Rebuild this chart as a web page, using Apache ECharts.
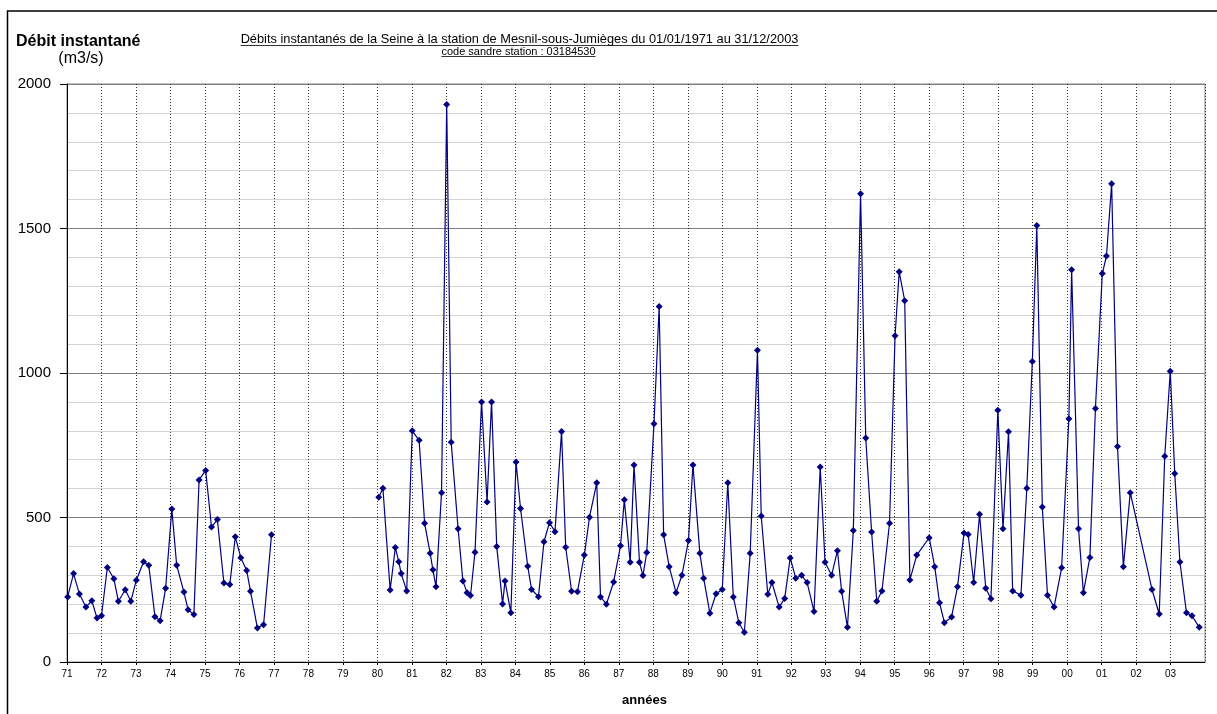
<!DOCTYPE html>
<html>
<head>
<meta charset="utf-8">
<title>Débits instantanés de la Seine - Mesnil-sous-Jumièges</title>
<script src="https://cdn.jsdelivr.net/npm/echarts@6/dist/echarts.min.js"></script>
<style>
  html, body { margin: 0; padding: 0; background: #fff; }
  #chart { width: 1217px; height: 714px; }
</style>
</head>
<body>
<div id="chart"></div>
<script>
// Sampling dates (decimal years) and instantaneous discharge (m3/s).
// A null value marks the 1977-1979 interruption of the record.
const sampleDates = [
  1971.02, 1971.19, 1971.36, 1971.55, 1971.72, 1971.87, 1972.00, 1972.17, 1972.36, 1972.49,
  1972.69, 1972.85, 1973.01, 1973.22, 1973.37, 1973.55, 1973.70, 1973.86, 1974.04, 1974.18,
  1974.39, 1974.51, 1974.68, 1974.83, 1975.02, 1975.19, 1975.36, 1975.55, 1975.72, 1975.88,
  1976.04, 1976.21, 1976.32, 1976.52, 1976.70, 1976.93,
  1978.50,
  1980.04, 1980.16, 1980.37, 1980.52, 1980.62, 1980.69, 1980.85, 1981.01, 1981.21, 1981.37,
  1981.53, 1981.61, 1981.70, 1981.86, 1982.01, 1982.14, 1982.34, 1982.48, 1982.60, 1982.70,
  1982.83, 1983.02, 1983.18, 1983.31, 1983.46, 1983.63, 1983.70, 1983.87, 1984.02, 1984.15,
  1984.36, 1984.47, 1984.67, 1984.83, 1984.99, 1985.15, 1985.34, 1985.46, 1985.63, 1985.80,
  1986.00, 1986.15, 1986.36, 1986.47, 1986.64, 1986.85,
  1987.05, 1987.16, 1987.33, 1987.44, 1987.60, 1987.70, 1987.81, 1988.02, 1988.17, 1988.30,
  1988.46, 1988.66, 1988.83, 1989.02, 1989.15, 1989.35, 1989.46, 1989.64, 1989.82, 1990.00,
  1990.16, 1990.32, 1990.48, 1990.64, 1990.81, 1991.02, 1991.13, 1991.32, 1991.44, 1991.65,
  1991.81, 1991.97, 1992.13, 1992.30, 1992.46, 1992.66, 1992.84, 1992.98, 1993.17, 1993.34,
  1993.46, 1993.63, 1993.80,
  1994.01, 1994.16, 1994.33, 1994.48, 1994.63, 1994.85, 1995.01, 1995.13, 1995.29, 1995.44,
  1995.64, 1996.00, 1996.16, 1996.30, 1996.44, 1996.65, 1996.82, 1997.01, 1997.13, 1997.29,
  1997.46, 1997.64, 1997.79, 1997.99, 1998.14, 1998.30, 1998.42, 1998.66, 1998.83, 1998.99,
  1999.12, 1999.28, 1999.43, 1999.62, 1999.84, 2000.05, 2000.13, 2000.33, 2000.47, 2000.66,
  2000.82, 2001.02, 2001.14, 2001.29, 2001.46, 2001.63, 2001.83, 2002.46, 2002.67, 2002.83,
  2002.99, 2003.12, 2003.27, 2003.46, 2003.62, 2003.83
];

const discharge = [
  225, 306, 235, 190, 212, 152, 160, 327, 288, 210,
  250, 210, 283, 347, 335, 157, 143, 255, 529, 335,
  242, 181, 164, 630, 663, 467, 493, 273, 268, 433,
  361, 317, 245, 118, 129, 440,
  null,
  570, 601, 249, 396, 347, 306, 246, 800, 767, 480,
  376, 319, 260, 586, 1929, 760, 461, 280, 240, 230,
  380, 900, 554, 900, 400, 201, 280, 170, 692, 531,
  331, 251, 226, 416, 482, 451, 798, 397, 245, 243,
  370, 501, 620, 225, 200, 277,
  402, 561, 345, 682, 345, 299, 379, 824, 1230, 440,
  330, 240, 300, 420, 682, 376, 290, 169, 236, 251,
  620, 225, 136, 103, 376, 1079, 505, 234, 275, 190,
  220, 360, 290, 300, 275, 175, 675, 345, 300, 385,
  245, 120, 455,
  1620, 775, 450, 210, 246, 480, 1129, 1350, 1250, 284,
  370, 430, 330, 205, 136, 156, 260, 446, 441, 275,
  511, 255, 219, 871, 461, 797, 246, 231, 601, 1040,
  1510, 536, 231, 190, 326, 842, 1357, 461, 240, 362,
  877, 1344, 1405, 1655, 746, 330, 586, 251, 166, 712,
  1006, 652, 346, 170, 160, 120
];

const yAxisTitle = 'Débit instantané';
const yAxisUnit = '(m3/s)';
const xAxisTitle = 'années';
const chartTitle = 'Débits instantanés de la Seine à la station de Mesnil-sous-Jumièges du 01/01/1971 au 31/12/2003';
const chartSubtitle = 'code sandre station : 03184530';

const FONT = "'Liberation Sans', Arial, Helvetica, sans-serif";

function textWidth(str, font) {
  const ctx = document.createElement('canvas').getContext('2d');
  ctx.font = font;
  return ctx.measureText(str).width;
}

// Underlined, centred text block (text + thin rule below it)
function underlined(str, cx, cy, size, id) {
  const w = textWidth(str, size + 'px ' + FONT);
  const uy = Math.round(cy + size * 0.45) + 0.5;
  return [
    { type: 'text', id: id, x: cx, y: cy,
      style: { text: str, fill: '#000', font: size + 'px ' + FONT, textAlign: 'center', textVerticalAlign: 'middle' } },
    { type: 'line', id: id + '_u',
      shape: { x1: cx - w / 2, y1: uy, x2: cx + w / 2, y2: uy },
      style: { stroke: '#000', lineWidth: 0.8 } }
  ];
}

const seriesData = sampleDates.map((t, i) => [t, discharge[i] === null ? '-' : discharge[i]]);

const chart = echarts.init(document.getElementById('chart'), null, { renderer: 'canvas' });

chart.setOption({
  animation: false,
  backgroundColor: '#ffffff',
  grid: {
    left: 67, top: 84, right: 12, bottom: 52,
    show: true, borderColor: '#808080', borderWidth: 1, backgroundColor: '#ffffff'
  },
  xAxis: {
    type: 'value',
    min: 1971,
    max: 2003.997,
    interval: 1,
    axisLine: { show: true, onZero: false, lineStyle: { color: '#000', width: 1 } },
    axisTick: { show: true, length: 3, inside: false, lineStyle: { color: '#000' } },
    axisLabel: {
      color: '#000', fontFamily: FONT, fontSize: 10, margin: 7, showMaxLabel: false,
      formatter: v => Number.isInteger(v) ? String(v % 100).padStart(2, '0') : ''
    },
    splitLine: { show: true, lineStyle: { color: '#333333', width: 1, type: [1, 2] } }
  },
  yAxis: {
    type: 'value',
    min: 0,
    max: 2000,
    interval: 500,
    axisLine: { show: true, lineStyle: { color: '#000', width: 1 } },
    axisTick: { show: true, length: 7, inside: false, lineStyle: { color: '#000' } },
    axisLabel: { color: '#000', fontFamily: FONT, fontSize: 15, margin: 16, formatter: v => String(v) },
    splitLine: { show: true, lineStyle: { color: '#808080', width: 1 } },
    minorTick: { show: false, splitNumber: 5 },
    minorSplitLine: { show: true, lineStyle: { color: '#d4d4d4', width: 1 } }
  },
  series: [{
    type: 'line',
    data: seriesData,
    connectNulls: false,
    symbol: 'diamond',
    symbolSize: 7,
    showSymbol: true,
    itemStyle: { color: '#000080' },
    lineStyle: { color: '#000080', width: 1.2 },
    emphasis: { disabled: true }
  }],
  graphic: [
    { type: 'rect', id: 'frame',
      shape: { x: 7.5, y: 11, width: 1400, height: 900 },
      style: { fill: 'none', stroke: '#000', lineWidth: 1.5 }, z: 100 },
    { type: 'text', id: 'ytitle', x: 16, y: 42,
      style: { text: yAxisTitle, fill: '#000', font: 'bold 16px ' + FONT, textVerticalAlign: 'middle' } },
    { type: 'text', id: 'yunit', x: 81, y: 59,
      style: { text: yAxisUnit, fill: '#000', font: '16px ' + FONT, textAlign: 'center', textVerticalAlign: 'middle' } },
    ...underlined(chartTitle, 519.5, 39, 12.8, 'title'),
    ...underlined(chartSubtitle, 518.5, 51.5, 11, 'subtitle'),
    { type: 'text', id: 'xtitle', x: 644.5, y: 700,
      style: { text: xAxisTitle, fill: '#000', font: 'bold 13px ' + FONT, textAlign: 'center', textVerticalAlign: 'middle' } }
  ]
});
</script>
</body>
</html>
